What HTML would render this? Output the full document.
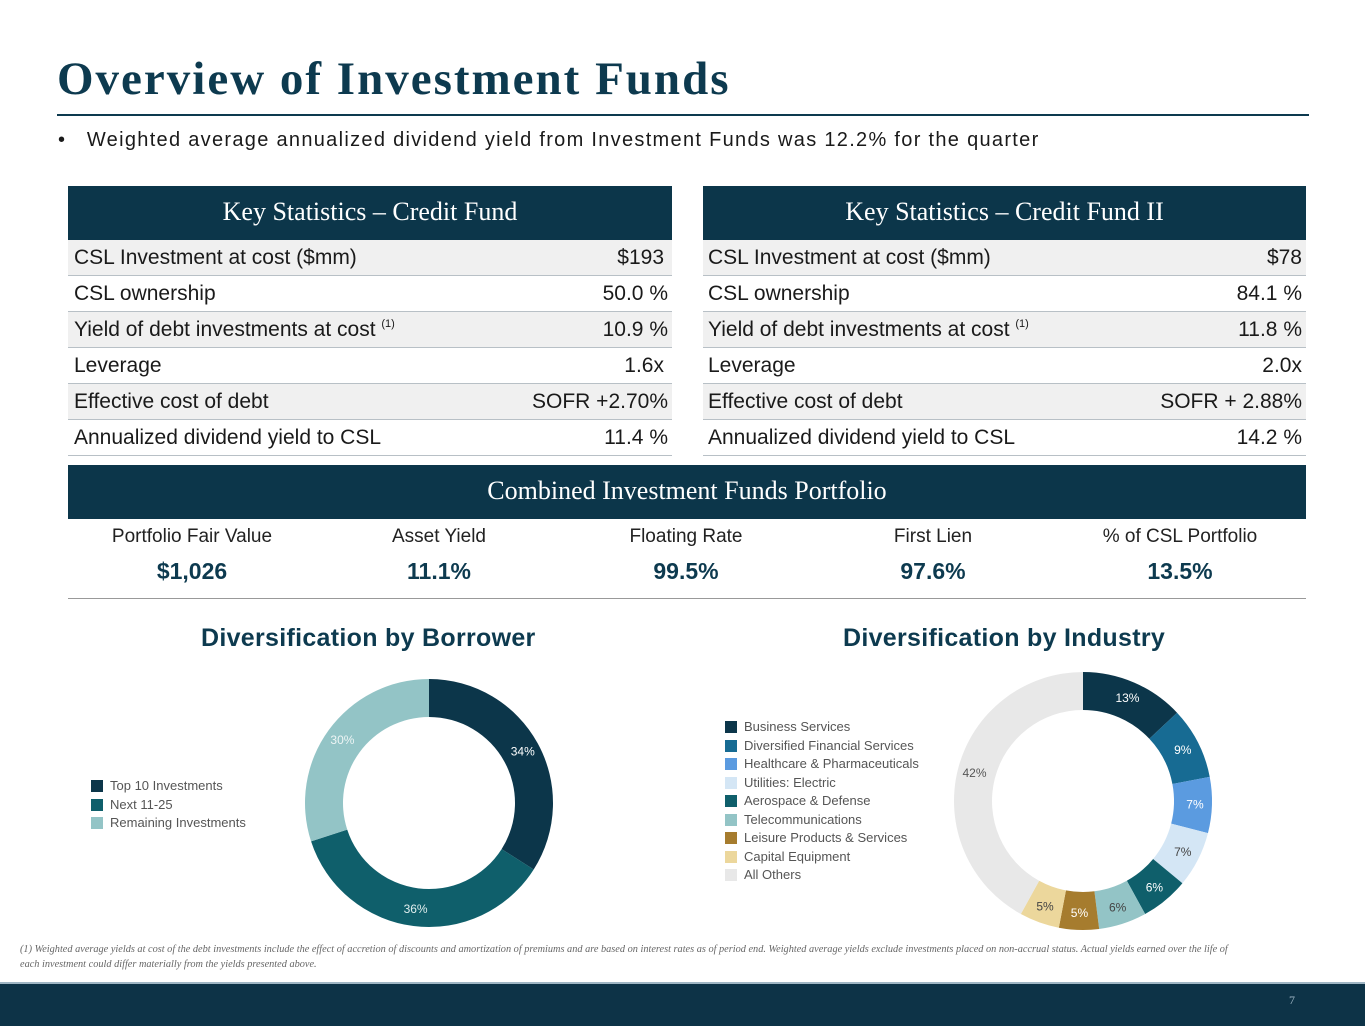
<!DOCTYPE html>
<html><head><meta charset="utf-8"><style>
body{margin:0;width:1365px;height:1024px;position:relative;background:#fff;font-family:"Liberation Sans",sans-serif;color:#1a1a1a;overflow:hidden}
.abs{position:absolute}
.title{left:57px;top:52px;font-family:"Liberation Serif",serif;font-weight:bold;font-size:47px;color:#0d3a4f;letter-spacing:2px}
.hdr{background:#0c364a;color:#fff;font-family:"Liberation Serif",serif;font-size:26px;text-align:center}
.tbl .row{position:absolute;left:0;width:100%;height:35px;border-bottom:1.5px solid #b8c0c6;font-size:21px;line-height:36px}
.tbl .row span{position:absolute}
.tbl .row .v{right:4px}
sup.f{font-size:11px;position:relative;top:-9px;vertical-align:baseline;line-height:0}
.stat{position:absolute;text-align:center;width:250px}
.stat .l{font-size:19px;color:#222}
.stat .n{font-size:23px;font-weight:bold;color:#0d3a4f;margin-top:10px}
.ch{font-size:25px;font-weight:bold;color:#0d3a4f}
.leg{font-size:13px;color:#555;line-height:18.5px}
.leg div{position:relative;padding-left:19px}
.leg i{position:absolute;left:0;top:3px;width:12px;height:12px}
</style></head><body>
<div class="abs title">Overview of Investment Funds</div>
<div class="abs" style="left:57px;top:114px;width:1252px;height:2px;background:#0d3a4f"></div>
<div class="abs" style="left:58px;top:129px;font-size:20px;letter-spacing:1.3px">•&nbsp;&nbsp; Weighted average annualized dividend yield from Investment Funds was 12.2% for the quarter</div>

<div class="abs hdr" style="left:68px;top:186px;width:604px;height:54px;line-height:52px">Key Statistics – Credit Fund</div>
<div class="abs tbl" style="left:68px;top:240px;width:604px;height:218px">
<div class="row" style="top:0;background:#f0f0f0"><span style="left:6px">CSL Investment at cost ($mm)</span><span class="v" style="right:8px">$193</span></div>
<div class="row" style="top:36px"><span style="left:6px">CSL ownership</span><span class="v">50.0 %</span></div>
<div class="row" style="top:72px;background:#f0f0f0"><span style="left:6px">Yield of debt investments at cost <sup class="f">(1)</sup></span><span class="v">10.9 %</span></div>
<div class="row" style="top:108px"><span style="left:6px">Leverage</span><span class="v" style="right:8px">1.6x</span></div>
<div class="row" style="top:144px;background:#f0f0f0"><span style="left:6px">Effective cost of debt</span><span class="v">SOFR +2.70%</span></div>
<div class="row" style="top:180px"><span style="left:6px">Annualized dividend yield to CSL</span><span class="v">11.4 %</span></div>
</div>

<div class="abs hdr" style="left:703px;top:186px;width:603px;height:54px;line-height:52px">Key Statistics – Credit Fund II</div>
<div class="abs tbl" style="left:703px;top:240px;width:603px;height:218px">
<div class="row" style="top:0;background:#f0f0f0"><span style="left:5px">CSL Investment at cost ($mm)</span><span class="v">$78</span></div>
<div class="row" style="top:36px"><span style="left:5px">CSL ownership</span><span class="v">84.1 %</span></div>
<div class="row" style="top:72px;background:#f0f0f0"><span style="left:5px">Yield of debt investments at cost <sup class="f">(1)</sup></span><span class="v">11.8 %</span></div>
<div class="row" style="top:108px"><span style="left:5px">Leverage</span><span class="v">2.0x</span></div>
<div class="row" style="top:144px;background:#f0f0f0"><span style="left:5px">Effective cost of debt</span><span class="v">SOFR + 2.88%</span></div>
<div class="row" style="top:180px"><span style="left:5px">Annualized dividend yield to CSL</span><span class="v">14.2 %</span></div>
</div>

<div class="abs hdr" style="left:68px;top:465px;width:1238px;height:54px;line-height:52px">Combined Investment Funds Portfolio</div>
<div class="stat" style="left:67px;top:526px"><div class="l">Portfolio Fair Value</div><div class="n">$1,026</div></div>
<div class="stat" style="left:314px;top:526px"><div class="l">Asset Yield</div><div class="n">11.1%</div></div>
<div class="stat" style="left:561px;top:526px"><div class="l">Floating Rate</div><div class="n">99.5%</div></div>
<div class="stat" style="left:808px;top:526px"><div class="l">First Lien</div><div class="n">97.6%</div></div>
<div class="stat" style="left:1055px;top:526px"><div class="l">% of CSL Portfolio</div><div class="n">13.5%</div></div>
<div class="abs" style="left:68px;top:598px;width:1238px;height:1px;background:#999"></div>

<div class="abs ch" style="left:201px;top:624px;letter-spacing:0.3px">Diversification by Borrower</div>
<div class="abs ch" style="left:843px;top:624px;letter-spacing:0.3px">Diversification by Industry</div>

<div class="abs leg" id="leg1" style="left:91px;top:777px"></div>
<div class="abs leg" id="leg2" style="left:725px;top:718px"></div>
<svg class="abs" id="svg" style="left:0;top:0" width="1365" height="1024"></svg>

<div class="abs" style="left:20px;top:942px;font-family:'Liberation Serif',serif;font-style:italic;font-size:10.3px;color:#666;line-height:15px;width:1228px">(1) Weighted average yields at cost of the debt investments include the effect of accretion of discounts and amortization of premiums and are based on interest rates as of period end. Weighted average yields exclude investments placed on non-accrual status. Actual yields earned over the life of each investment could differ materially from the yields presented above.</div>
<div class="abs" style="left:0;top:982px;width:1365px;height:42px;background:#0d3347;border-top:2px solid #9fb6c4"></div>
<div class="abs" style="left:1289px;top:993px;font-size:12px;color:#9fb6c4;font-family:'Liberation Serif',serif">7</div>

<script>
const borrowerCats=["Top 10 Investments","Next 11-25","Remaining Investments"];
const borrowerVals=[34,36,30];
const borrowerColors=["#0c364a","#0f5f6b","#93c4c6"];
const borrowerLabelColors=["#fff","#e0eeee","#eef5f5"];
const industryCats=["Business Services","Diversified Financial Services","Healthcare & Pharmaceuticals","Utilities: Electric","Aerospace & Defense","Telecommunications","Leisure Products & Services","Capital Equipment","All Others"];
const industryVals=[13,9,7,7,6,6,5,5,42];
const industryColors=["#0c364a","#176b93","#5b9be0","#d4e6f5","#0f5f6b","#93c4c6","#a67c2e","#ecd79c","#e8e8e8"];
const industryLabelColors=["#fff","#fff","#fff","#444","#fff","#444","#fff","#444","#555"];
const NS="http://www.w3.org/2000/svg";
const svg=document.getElementById('svg');
function donut(cx,cy,R,r,vals,colors,lcols,name){
  const tot=vals.reduce((a,b)=>a+b,0);let a0=0;
  vals.forEach((v,i)=>{
    const a1=a0+v/tot*2*Math.PI;
    const p=(a,rad)=>[cx+rad*Math.sin(a),cy-rad*Math.cos(a)];
    const [x1,y1]=p(a0,R),[x2,y2]=p(a1,R),[x3,y3]=p(a1,r),[x4,y4]=p(a0,r);
    const lg=(a1-a0)>Math.PI?1:0;
    const path=document.createElementNS(NS,'path');
    path.setAttribute('d',`M${x1},${y1}A${R},${R} 0 ${lg} 1 ${x2},${y2}L${x3},${y3}A${r},${r} 0 ${lg} 0 ${x4},${y4}Z`);
    path.setAttribute('fill',colors[i]);
    
    
    svg.appendChild(path);
    const [tx,ty]=p((a0+a1)/2,(R+r)/2+2);
    const t=document.createElementNS(NS,'text');
    t.setAttribute('x',tx);t.setAttribute('y',ty+4);t.setAttribute('text-anchor','middle');
    t.setAttribute('font-size','12');t.setAttribute('font-family','Liberation Sans, sans-serif');t.setAttribute('fill',lcols[i]);
    t.textContent=v+'%';
    
    
    svg.appendChild(t);
    a0=a1;
  });
}
donut(429,803,124,86,borrowerVals,borrowerColors,borrowerLabelColors,'borrower');
donut(1083,801,129,91,industryVals,industryColors,industryLabelColors,'industry');
function legend(id,cats,colors){
  const el=document.getElementById(id);
  cats.forEach((c,i)=>{
    const d=document.createElement('div');
    d.innerHTML='<i style="background:'+colors[i]+'"></i>'+c.replace(/&/g,'&amp;');
    
    
    el.appendChild(d);
  });
}
legend('leg1',borrowerCats,borrowerColors);
legend('leg2',industryCats,industryColors);
</script>
</body></html>
